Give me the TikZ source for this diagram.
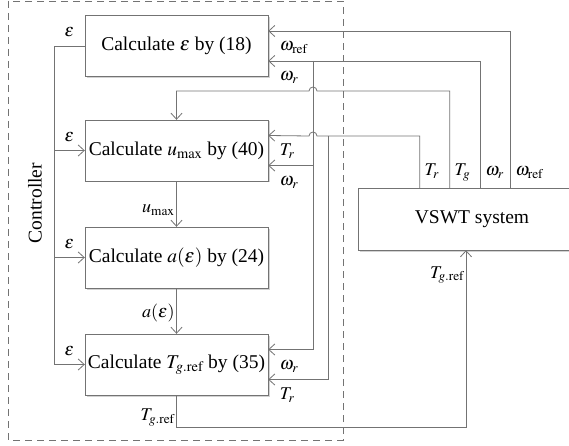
\documentclass[tikz,border=0pt]{standalone}
\usepackage{mathptmx}
\usepackage{fontspec}
\setmainfont{Liberation Serif}
\usetikzlibrary{arrows.meta,positioning,shadows}
\definecolor{wiregray}{gray}{0.45}
\tikzset{
  calcbox/.style={draw=wiregray,fill=white,minimum width=183pt,minimum height=61pt,inner sep=0pt,
    drop shadow={shadow xshift=1.5pt,shadow yshift=-1.5pt,fill=black!35}},
  link/.style={draw=wiregray,line width=0.8pt},
  sig/.style={font=\fontsize{18}{21}\selectfont,inner sep=1.5pt},
  tiplbl/.style={sig,anchor=base west,xshift=10pt,yshift=-20pt},
  portlbl/.style={sig,anchor=base west,xshift=3pt,yshift=12pt},
}
\begin{document}
\begin{tikzpicture}[x=1pt,y=-1pt,font=\fontsize{19.5}{23}\selectfont,
  >={Straight Barb[length=6pt,width=11pt]}]
  \useasboundingbox (0,0) rectangle (569,446);
  % controller frame
  \draw[draw=wiregray,line width=0.8pt,dash pattern=on 7pt off 5pt] (8,1) rectangle (343,440);
  \node[rotate=90] (ctrl) at (35,203) {Controller};
  % blocks
  \node[calcbox] (eps) at (176.5,46) {Calculate $\varepsilon$ by (18)};
  \node[calcbox] (umax) at (176.5,150.5) {Calculate $u_{\max}$ by (40)};
  \node[calcbox] (aeps) at (176.5,257.5) {Calculate $a(\varepsilon)$ by (24)};
  \node[calcbox] (tgref) at (176.5,364.5) {Calculate $T_{g.\mathrm{ref}}$ by (35)};
  \node[calcbox,minimum width=228pt,minimum height=62pt] (vswt) at (472,219) {VSWT system};
  % ports on top of the plant
  \foreach \p/\d/\t in {pTr/62/T_r,pTg/92/T_g,pwr/123/\omega_r,pwref/153/\omega_{\mathrm{ref}}} {
    \coordinate (\p) at ([xshift=\d pt]vswt.north west);
    \node[portlbl] at (\p) {$\t$};
  }
  \coordinate (pin) at ([xshift=-6pt]vswt.south);
  % epsilon bus
  \coordinate (bus) at (54,0);
  \draw[link] (eps.west) -- node[sig,above=7pt]{$\varepsilon$} (eps.west -| bus) -- (tgref.west -| bus);
  \foreach \n in {umax,aeps,tgref}
    \draw[link,->] (\n.west -| bus) -- node[sig,above=7pt]{$\varepsilon$} (\n.west);
  % chain
  \draw[link,->] (umax) -- node[sig,left,pos=0.63]{$u_{\max}$} (aeps);
  \draw[link,->] (aeps) -- node[sig,left,pos=0.55]{$a(\varepsilon)$} (tgref);
  \draw[link,->] (tgref.south) -- node[sig,left,pos=0.7]{$T_{g.\mathrm{ref}}$} ++(0,32) -| node[sig,left,pos=0.93]{$T_{g.\mathrm{ref}}$} (pin);
  % feedback
  \draw[link,->] (pwref) |- ([yshift=15pt]eps.east);
  \draw[link,->] (pwr) |- ([yshift=-15pt]eps.east);
  \coordinate (wrv) at (313,61);
  \draw[link,->] (wrv) |- ([yshift=-15pt]umax.east);
  \draw[link,->] (wrv) |- ([yshift=15pt]tgref.east);
  \draw[link,->] (pTg) |- (317,91) arc[start angle=0,end angle=180,radius=4pt] -| (umax.north);
  \draw[link,->] (pTr) |- (317,136) arc[start angle=0,end angle=180,radius=4pt] -- ([yshift=15pt]umax.east);
  \coordinate (trv) at (328,136);
  \draw[link,->] (trv) |- ([yshift=-15pt]tgref.east);
  \foreach \n/\a/\b in {eps/\omega_{\mathrm{ref}}/\omega_r,umax/T_r/\omega_r,tgref/\omega_r/T_r} {
    \node[tiplbl] at ([yshift=15pt]\n.east) {$\a$};
    \node[tiplbl] at ([yshift=-15pt]\n.east) {$\b$};
  }
\end{tikzpicture}
\end{document}
